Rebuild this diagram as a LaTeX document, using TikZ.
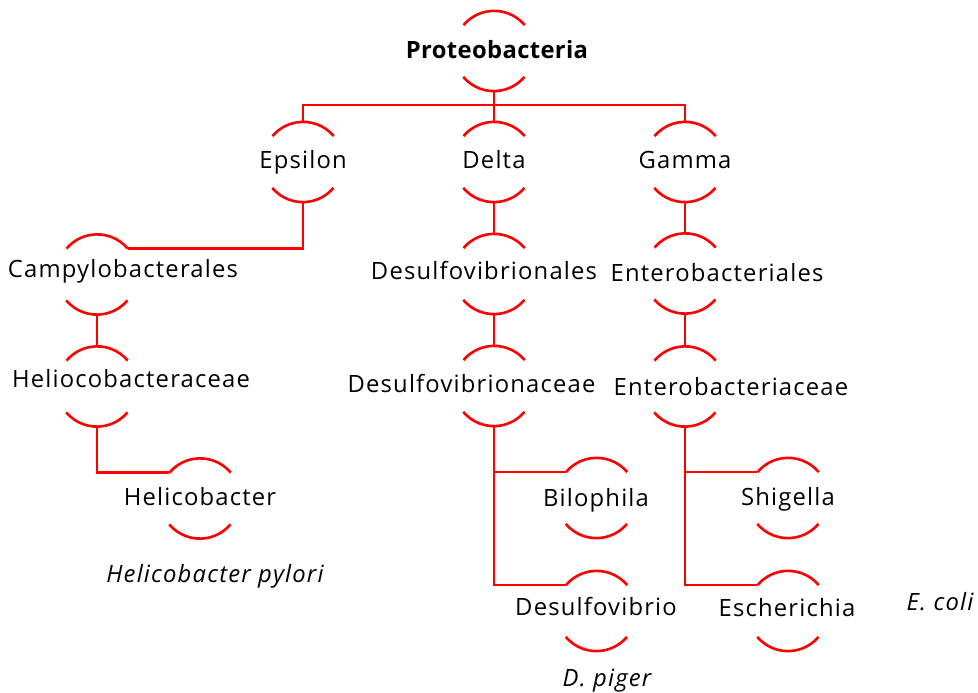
\documentclass[tikz,border=0pt]{standalone}
\usepackage{fontspec}
\setmainfont[LetterSpace=5]{Open Sans}
\newfontfamily\titlefam[LetterSpace=1.5]{Open Sans}
\begin{document}
\begin{tikzpicture}[x=1pt,y=1pt,
  ring/.style={circle, minimum size=80pt, inner sep=0pt, draw=none},
  conn/.style={draw=red, line width=2.6pt},
  lbl/.style={font=\fontsize{23.8}{28}\selectfont, text=black, anchor=base, inner sep=0pt},
  ital/.style={lbl, font=\fontsize{23.8}{28}\selectfont\itshape},
]
\useasboundingbox (0,0) rectangle (978,693);
\newcommand\ringarcs[1]{%
  \draw[conn] (#1.40) arc[start angle=40,end angle=140,radius=40pt];
  \draw[conn] (#1.220) arc[start angle=220,end angle=320,radius=40pt];}
% rings
\node[ring] (proteo) at (494,642) {};
\node[ring] (eps) at (303,531) {};
\node[ring] (del) at (494,531) {};
\node[ring] (gam) at (685,531) {};
\node[ring] (campy) at (97,418.5) {};
\node[ring] (helio) at (97,306.5) {};
\node[ring] (helicob) at (200,194.5) {};
\node[ring] (desord) at (494,419) {};
\node[ring] (desfam) at (494,307) {};
\node[ring] (bilo) at (596.5,195) {};
\node[ring] (desvib) at (596.5,82) {};
\node[ring] (entord) at (685,419.5) {};
\node[ring] (entfam) at (685,306.5) {};
\node[ring] (shig) at (788,195) {};
\node[ring] (esch) at (788,82) {};
\foreach \n in {proteo,eps,del,gam,campy,helio,helicob,desord,desfam,bilo,desvib,entord,entfam,shig,esch}{\ringarcs{\n}}
% labels
\node[lbl, font=\fontsize{23.8}{28}\selectfont\titlefam\bfseries] (tproteo) at (497,634) {Proteobacteria};
\node[lbl] (teps) at (303,524) {Epsilon};
\node[lbl] (tdel) at (494,524) {Delta};
\node[lbl] (tgam) at (685,524) {Gamma};
\node[lbl] (tcampy) at (123,415) {Campylobacterales};
\node[lbl] (thelio) at (131,305) {Heliocobacteraceae};
\node[lbl] (thelicob) at (200,187) {Helicobacter};
\node[ital] (thp) at (215,110) {Helicobacter pylori};
\node[lbl] (tdesord) at (484,413) {Desulfovibrionales};
\node[lbl] (tdesfam) at (471.5,300) {Desulfovibrionaceae};
\node[lbl] (tbilo) at (596,186) {Bilophila};
\node[lbl] (tdesvib) at (596,77) {Desulfovibrio};
\node[ital] (tdp) at (607,6) {D. piger};
\node[lbl] (tentord) at (717,411) {Enterobacteriales};
\node[lbl] (tentfam) at (731,297) {Enterobacteriaceae};
\node[lbl] (tshig) at (788,187) {Shigella};
\node[lbl] (tesch) at (787,76) {Escherichia};
\node[ital] (tec) at (940,82) {E. coli};
% connectors
\coordinate (j0) at (494,588);
\draw[conn] (proteo.south) -- (j0);
\draw[conn] (eps.north) |- (j0) -| (gam.north);
\draw[conn] (j0) -- (del.north);
\draw[conn] (eps.south) |- (campy.40);
\draw[conn] (campy.south) -- (helio.north);
\draw[conn] (helio.south) |- (helicob.140);
\draw[conn] (del.south) -- (desord.north);
\draw[conn] (desord.south) -- (desfam.north);
\draw[conn] (desfam.south) |- (bilo.140);
\draw[conn] (desfam.south) |- (desvib.140);
\draw[conn] (gam.south) -- (entord.north);
\draw[conn] (entord.south) -- (entfam.north);
\draw[conn] (entfam.south) |- (shig.140);
\draw[conn] (entfam.south) |- (esch.140);
\end{tikzpicture}
\end{document}
